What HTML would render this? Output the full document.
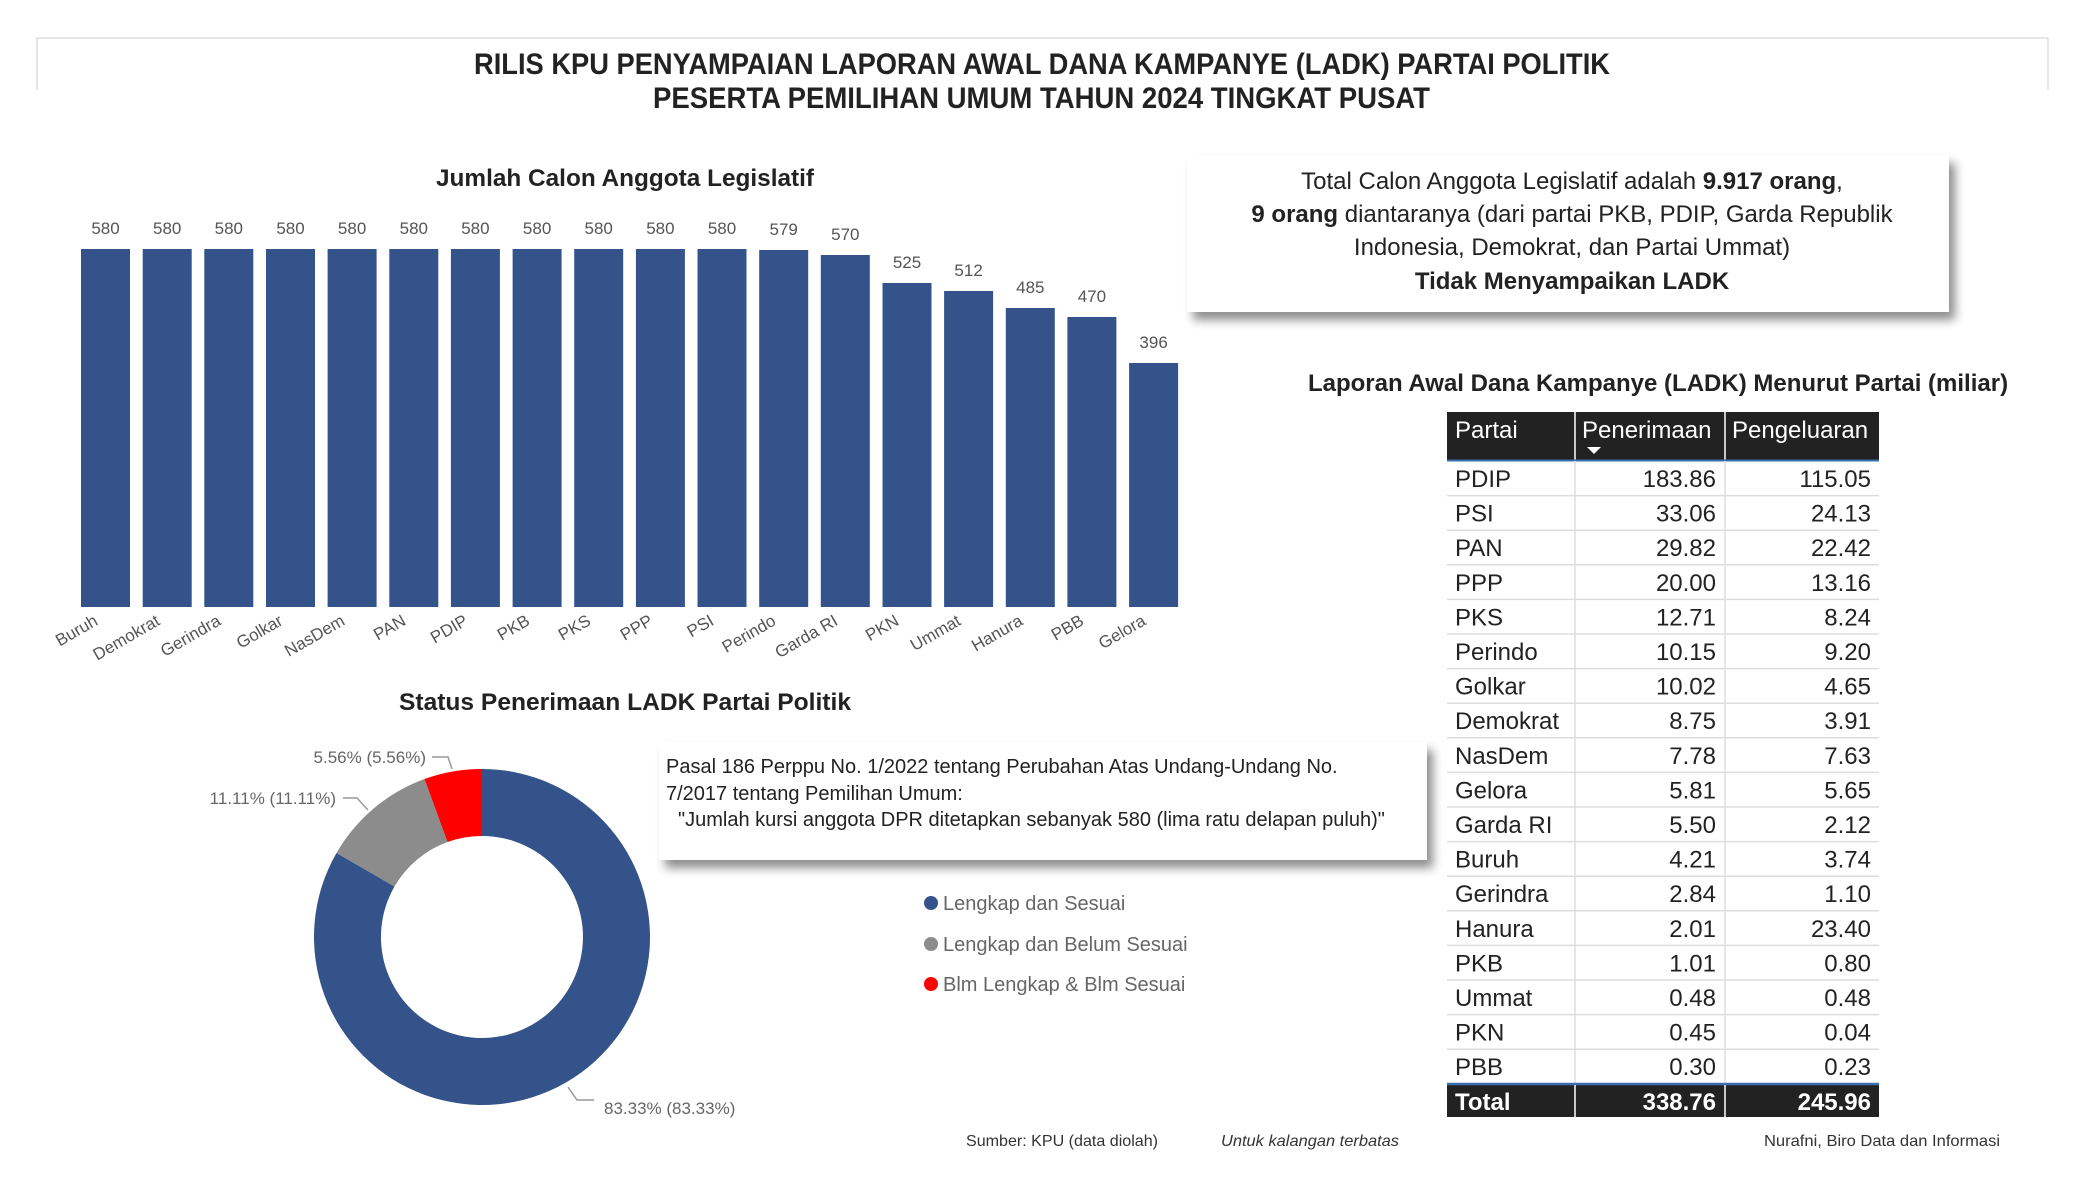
<!DOCTYPE html>
<html><head><meta charset="utf-8"><style>
html,body{margin:0;padding:0;background:#fff;}
svg{display:block;}
text{font-family:"Liberation Sans",sans-serif;}
.cond{font-family:"Liberation Sans Narrow","Liberation Sans",sans-serif;}
</style></head><body>
<svg width="2075" height="1200" viewBox="0 0 2075 1200" xmlns="http://www.w3.org/2000/svg">
<defs>
<filter id="sh" x="-5%" y="-10%" width="115%" height="140%"><feGaussianBlur in="SourceAlpha" stdDeviation="5"/><feOffset dx="6" dy="8"/><feComponentTransfer><feFuncA type="linear" slope="0.45"/></feComponentTransfer><feMerge><feMergeNode/><feMergeNode in="SourceGraphic"/></feMerge></filter>
</defs>
<rect width="2075" height="1200" fill="#fff"/>
<path d="M37 90 V38 H2048 V90" fill="none" stroke="#ddd" stroke-width="1.5"/>
<text x="474" y="74" textLength="1136" lengthAdjust="spacingAndGlyphs" font-size="30" font-weight="bold" fill="#222" class="cond">RILIS KPU PENYAMPAIAN LAPORAN AWAL DANA KAMPANYE (LADK) PARTAI POLITIK</text>
<text x="653" y="108" textLength="777" lengthAdjust="spacingAndGlyphs" font-size="30" font-weight="bold" fill="#222" class="cond">PESERTA PEMILIHAN UMUM TAHUN 2024 TINGKAT PUSAT</text>

<text x="436" y="186" textLength="378" lengthAdjust="spacingAndGlyphs" font-size="24" font-weight="bold" fill="#222" class="cond">Jumlah Calon Anggota Legislatif</text>
<g fill="#34538a">
<rect x="81" y="249" width="49" height="358"/><rect x="142.7" y="249" width="49" height="358"/><rect x="204.3" y="249" width="49" height="358"/><rect x="266" y="249" width="49" height="358"/><rect x="327.6" y="249" width="49" height="358"/><rect x="389.3" y="249" width="49" height="358"/><rect x="450.9" y="249" width="49" height="358"/><rect x="512.6" y="249" width="49" height="358"/><rect x="574.2" y="249" width="49" height="358"/><rect x="635.9" y="249" width="49" height="358"/><rect x="697.5" y="249" width="49" height="358"/><rect x="759.2" y="250" width="49" height="357"/><rect x="820.8" y="255" width="49" height="352"/><rect x="882.5" y="283" width="49" height="324"/><rect x="944.1" y="291" width="49" height="316"/><rect x="1005.8" y="308" width="49" height="299"/><rect x="1067.4" y="317" width="49" height="290"/><rect x="1129.1" y="363" width="49" height="244"/>
</g>
<g font-size="17" fill="#555" text-anchor="middle">
<text x="105.5" y="234">580</text><text x="167.2" y="234">580</text><text x="228.8" y="234">580</text><text x="290.5" y="234">580</text><text x="352.1" y="234">580</text><text x="413.8" y="234">580</text><text x="475.4" y="234">580</text><text x="537.1" y="234">580</text><text x="598.7" y="234">580</text><text x="660.4" y="234">580</text><text x="722" y="234">580</text><text x="783.7" y="235">579</text><text x="845.3" y="240">570</text><text x="907" y="268">525</text><text x="968.6" y="276">512</text><text x="1030.3" y="293">485</text><text x="1091.9" y="302">470</text><text x="1153.6" y="348">396</text>
</g>
<g font-size="17" fill="#555" text-anchor="end">
<text transform="translate(99,624) rotate(-30)">Buruh</text>
<text transform="translate(161,624) rotate(-30)">Demokrat</text>
<text transform="translate(222,624) rotate(-30)">Gerindra</text>
<text transform="translate(284,624) rotate(-30)">Golkar</text>
<text transform="translate(346,624) rotate(-30)">NasDem</text>
<text transform="translate(407,624) rotate(-30)">PAN</text>
<text transform="translate(469,624) rotate(-30)">PDIP</text>
<text transform="translate(531,624) rotate(-30)">PKB</text>
<text transform="translate(592,624) rotate(-30)">PKS</text>
<text transform="translate(654,624) rotate(-30)">PPP</text>
<text transform="translate(715,624) rotate(-30)">PSI</text>
<text transform="translate(777,624) rotate(-30)">Perindo</text>
<text transform="translate(839,624) rotate(-30)">Garda RI</text>
<text transform="translate(900,624) rotate(-30)">PKN</text>
<text transform="translate(962,624) rotate(-30)">Ummat</text>
<text transform="translate(1024,624) rotate(-30)">Hanura</text>
<text transform="translate(1085,624) rotate(-30)">PBB</text>
<text transform="translate(1147,624) rotate(-30)">Gelora</text>
</g>

<rect x="1187" y="155" width="762" height="157" fill="#fff" filter="url(#sh)"/>
<g font-size="24" fill="#222" text-anchor="middle">
<text x="1572" y="189">Total Calon Anggota Legislatif adalah <tspan font-weight="bold">9.917 orang</tspan>,</text>
<text x="1572" y="222"><tspan font-weight="bold">9 orang</tspan> diantaranya (dari partai PKB, PDIP, Garda Republik</text>
<text x="1572" y="255">Indonesia, Demokrat, dan Partai Ummat)</text>
<text x="1572" y="289" font-weight="bold">Tidak Menyampaikan LADK</text>
</g>

<text x="1658" y="391" text-anchor="middle" font-size="24" font-weight="bold" fill="#222">Laporan Awal Dana Kampanye (LADK) Menurut Partai (miliar)</text>
<rect x="1447" y="412" width="432" height="48" fill="#222"/>
<line x1="1575" y1="412" x2="1575" y2="460" stroke="#fff" stroke-width="1.5"/>
<line x1="1725" y1="412" x2="1725" y2="460" stroke="#fff" stroke-width="1.5"/>
<line x1="1447" y1="460.5" x2="1879" y2="460.5" stroke="#3a6fb0" stroke-width="2"/>
<g font-size="24" fill="#fff"><text x="1455" y="438">Partai</text><text x="1582" y="438">Penerimaan</text><text x="1732" y="438">Pengeluaran</text></g>
<path d="M1587 447 h14 l-7 7z" fill="#fff"/>
<g stroke="#ddd" stroke-width="1.5">
<line x1="1575" y1="461" x2="1575" y2="1084"/><line x1="1725" y1="461" x2="1725" y2="1084"/>
<line x1="1447" y1="495.6" x2="1879" y2="495.6"/><line x1="1447" y1="530.2" x2="1879" y2="530.2"/><line x1="1447" y1="564.8" x2="1879" y2="564.8"/><line x1="1447" y1="599.4" x2="1879" y2="599.4"/><line x1="1447" y1="634" x2="1879" y2="634"/><line x1="1447" y1="668.6" x2="1879" y2="668.6"/><line x1="1447" y1="703.2" x2="1879" y2="703.2"/><line x1="1447" y1="737.8" x2="1879" y2="737.8"/><line x1="1447" y1="772.4" x2="1879" y2="772.4"/><line x1="1447" y1="807" x2="1879" y2="807"/><line x1="1447" y1="841.6" x2="1879" y2="841.6"/><line x1="1447" y1="876.2" x2="1879" y2="876.2"/><line x1="1447" y1="910.8" x2="1879" y2="910.8"/><line x1="1447" y1="945.4" x2="1879" y2="945.4"/><line x1="1447" y1="980" x2="1879" y2="980"/><line x1="1447" y1="1014.6" x2="1879" y2="1014.6"/><line x1="1447" y1="1049.2" x2="1879" y2="1049.2"/>
</g>
<g font-size="24" fill="#222">
<text x="1455" y="487">PDIP</text><text x="1455" y="521.6">PSI</text><text x="1455" y="556.2">PAN</text><text x="1455" y="590.8">PPP</text><text x="1455" y="625.4">PKS</text><text x="1455" y="660">Perindo</text><text x="1455" y="694.6">Golkar</text><text x="1455" y="729.2">Demokrat</text><text x="1455" y="763.8">NasDem</text><text x="1455" y="798.4">Gelora</text><text x="1455" y="833">Garda RI</text><text x="1455" y="867.6">Buruh</text><text x="1455" y="902.2">Gerindra</text><text x="1455" y="936.8">Hanura</text><text x="1455" y="971.4">PKB</text><text x="1455" y="1006">Ummat</text><text x="1455" y="1040.6">PKN</text><text x="1455" y="1075.2">PBB</text>
</g>
<g font-size="24" fill="#222" text-anchor="end">
<text x="1716" y="487">183.86</text><text x="1716" y="521.6">33.06</text><text x="1716" y="556.2">29.82</text><text x="1716" y="590.8">20.00</text><text x="1716" y="625.4">12.71</text><text x="1716" y="660">10.15</text><text x="1716" y="694.6">10.02</text><text x="1716" y="729.2">8.75</text><text x="1716" y="763.8">7.78</text><text x="1716" y="798.4">5.81</text><text x="1716" y="833">5.50</text><text x="1716" y="867.6">4.21</text><text x="1716" y="902.2">2.84</text><text x="1716" y="936.8">2.01</text><text x="1716" y="971.4">1.01</text><text x="1716" y="1006">0.48</text><text x="1716" y="1040.6">0.45</text><text x="1716" y="1075.2">0.30</text>
<text x="1871" y="487">115.05</text><text x="1871" y="521.6">24.13</text><text x="1871" y="556.2">22.42</text><text x="1871" y="590.8">13.16</text><text x="1871" y="625.4">8.24</text><text x="1871" y="660">9.20</text><text x="1871" y="694.6">4.65</text><text x="1871" y="729.2">3.91</text><text x="1871" y="763.8">7.63</text><text x="1871" y="798.4">5.65</text><text x="1871" y="833">2.12</text><text x="1871" y="867.6">3.74</text><text x="1871" y="902.2">1.10</text><text x="1871" y="936.8">23.40</text><text x="1871" y="971.4">0.80</text><text x="1871" y="1006">0.48</text><text x="1871" y="1040.6">0.04</text><text x="1871" y="1075.2">0.23</text>
</g>
<rect x="1447" y="1084" width="432" height="33" fill="#222"/>
<line x1="1447" y1="1084" x2="1879" y2="1084" stroke="#3a6fb0" stroke-width="2.5"/>
<line x1="1575" y1="1085" x2="1575" y2="1117" stroke="#fff" stroke-width="1.5"/>
<line x1="1725" y1="1085" x2="1725" y2="1117" stroke="#fff" stroke-width="1.5"/>
<g font-size="24" font-weight="bold" fill="#fff"><text x="1455" y="1110">Total</text><text x="1716" y="1110" text-anchor="end">338.76</text><text x="1871" y="1110" text-anchor="end">245.96</text></g>

<text x="399" y="710" textLength="452" lengthAdjust="spacingAndGlyphs" font-size="24" font-weight="bold" fill="#222" class="cond">Status Penerimaan LADK Partai Politik</text>
<path d="M482 769 A168 168 0 1 1 336.5 853 L394.5 886.5 A101 101 0 1 0 482 836 Z" fill="#34538a"/>
<path d="M336.5 853 A168 168 0 0 1 424.5 779 L447.5 842 A101 101 0 0 0 394.5 886.5 Z" fill="#8c8c8c"/>
<path d="M424.5 779 A168 168 0 0 1 482 769 L482 836 A101 101 0 0 0 447.5 842 Z" fill="#ff0000"/>
<g fill="none" stroke="#999" stroke-width="1.5">
<polyline points="432,757 448,757 452,769"/>
<polyline points="343,798 357,798 368,810"/>
<polyline points="568,1087 577,1100 594,1100"/>
</g>
<g font-size="17" fill="#666">
<text x="426" y="763" text-anchor="end">5.56% (5.56%)</text>
<text x="336" y="804" text-anchor="end">11.11% (11.11%)</text>
<text x="604" y="1114">83.33% (83.33%)</text>
</g>

<rect x="659" y="742" width="768" height="118" fill="#fff" filter="url(#sh)"/>
<g font-size="20" fill="#222">
<text x="666" y="773">Pasal 186 Perppu No. 1/2022 tentang Perubahan Atas Undang-Undang No.</text>
<text x="666" y="800">7/2017 tentang Pemilihan Umum:</text>
<text x="678" y="826">"Jumlah kursi anggota DPR ditetapkan sebanyak 580 (lima ratu delapan puluh)"</text>
</g>

<circle cx="931" cy="903" r="7" fill="#34538a"/><circle cx="931" cy="944" r="7" fill="#8c8c8c"/><circle cx="931" cy="984" r="7" fill="#ff0000"/>
<g font-size="20" fill="#666">
<text x="943" y="910">Lengkap dan Sesuai</text>
<text x="943" y="951">Lengkap dan Belum Sesuai</text>
<text x="943" y="991">Blm Lengkap &amp; Blm Sesuai</text>
</g>

<g font-size="16" fill="#333" class="cond">
<text x="966" y="1146" textLength="192" lengthAdjust="spacingAndGlyphs">Sumber: KPU (data diolah)</text>
<text x="1221" y="1146" textLength="178" lengthAdjust="spacingAndGlyphs" font-style="italic">Untuk kalangan terbatas</text>
<text x="1764" y="1146" textLength="236" lengthAdjust="spacingAndGlyphs">Nurafni, Biro Data dan Informasi</text>
</g>
</svg>
</body></html>
